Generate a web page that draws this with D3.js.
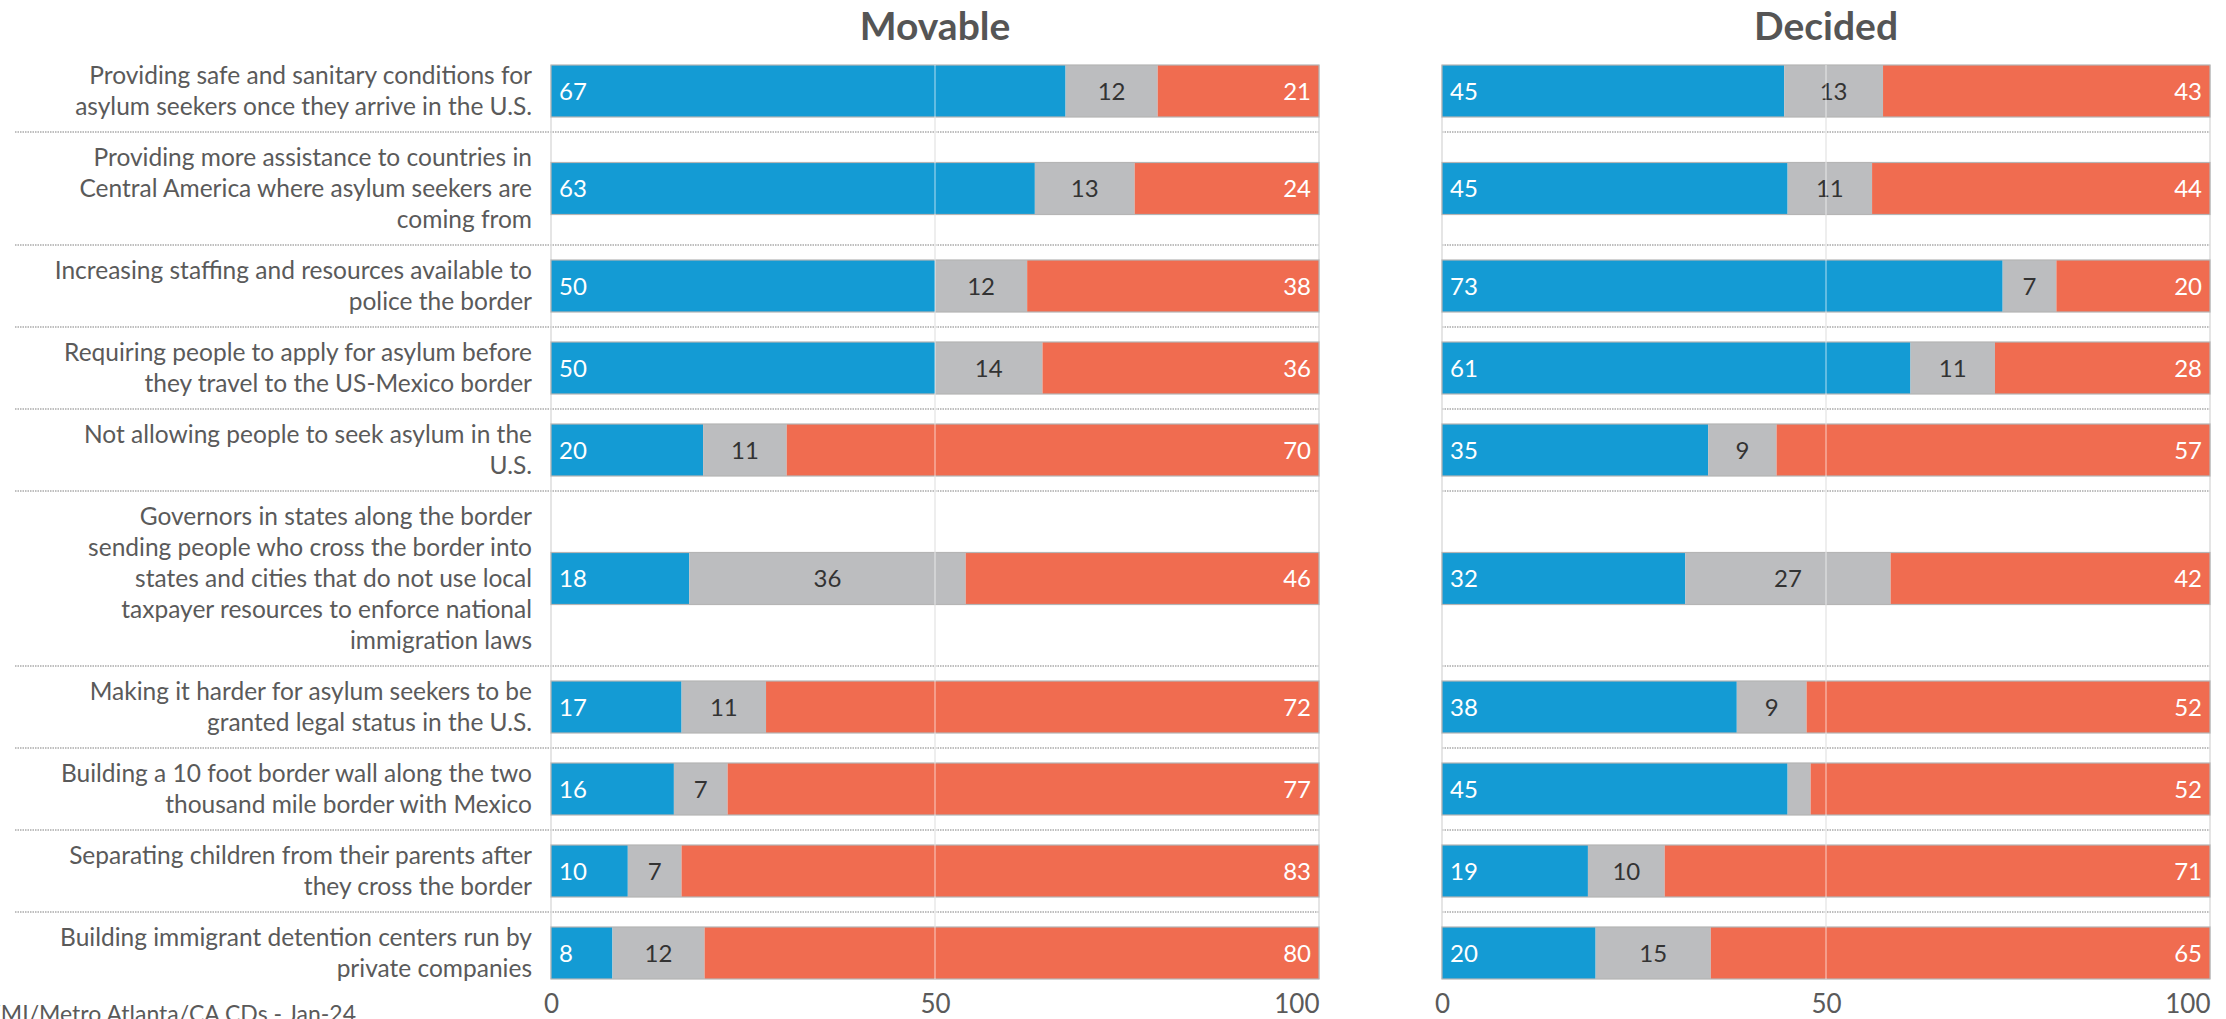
<!DOCTYPE html>
<meta charset="utf-8">
<title>Immigration policies - Movable vs Decided</title>
<style>
body {
  margin: 0;
  background: #fff;
}

svg {
  display: block;
  font-family: Lato, "Open Sans", sans-serif;
}

.label {
  fill: #5a5a5a;
  font-size: 24.5px;
}

.title {
  fill: #555;
  font-size: 39px;
  font-weight: bold;
}

.value {
  font-size: 24px;
}

.axis text {
  fill: #5a5a5a;
  font-size: 26px;
  font-family: Lato, "Open Sans", sans-serif;
}

.source {
  fill: #5a5a5a;
  font-size: 23px;
}
</style>
<body>
<div id="chart"></div>

<script src="https://cdn.jsdelivr.net/npm/d3@7"></script>
<script>
// Row labels (already broken into lines as in the original)
const categories = [
  ["Providing safe and sanitary conditions for", "asylum seekers once they arrive in the U.S."],
  ["Providing more assistance to countries in", "Central America where asylum seekers are", "coming from"],
  ["Increasing staffing and resources available to", "police the border"],
  ["Requiring people to apply for asylum before", "they travel to the US-Mexico border"],
  ["Not allowing people to seek asylum in the", "U.S."],
  ["Governors in states along the border", "sending people who cross the border into", "states and cities that do not use local", "taxpayer resources to enforce national", "immigration laws"],
  ["Making it harder for asylum seekers to be", "granted legal status in the U.S."],
  ["Building a 10 foot border wall along the two", "thousand mile border with Mexico"],
  ["Separating children from their parents after", "they cross the border"],
  ["Building immigrant detention centers run by", "private companies"]
];

const series = ["Support", "Unsure", "Oppose"];
const panelTitles = ["Movable", "Decided"];

// Movable voters
const movableSupport = [67, 63, 50, 50, 20, 18, 17, 16, 10, 8];
const movableUnsure  = [12, 13, 12, 14, 11, 36, 11, 7, 7, 12];
const movableOppose  = [21, 24, 38, 36, 70, 46, 72, 77, 83, 80];

// Decided voters
const decidedSupport = [45, 45, 73, 61, 35, 32, 38, 45, 19, 20];
const decidedUnsure  = [13, 11, 7, 11, 9, 27, 9, 3, 10, 15];
const decidedOppose  = [43, 44, 20, 28, 57, 42, 52, 52, 71, 65];

const tickValues = [0, 50, 100];
const source = "AZ/GA/NV/MI/Metro Atlanta/CA CDs - Jan-24";

// Layout
const width = 2226;
const height = 1019;
const panelX = [551, 1442];
const panelW = 768;
const plotTop = 50;
const lineH = 31;
const rowPad = 20;
const barH = 52;
const labelRight = 532;

const colors = {Support: "#149bd4", Unsure: "#bcbdbf", Oppose: "#f06c50"};
const textColors = {Support: "#fff", Unsure: "#333", Oppose: "#fff"};

// Row positions from the number of label lines
const rowH = categories.map(c => c.length * lineH + rowPad);
const rowTop = rowH.map((h, i) => plotTop + d3.sum(rowH.slice(0, i)));
const rowMid = rowTop.map((t, i) => t + rowH[i] / 2);
const plotBottom = rowTop[rowTop.length - 1] + rowH[rowH.length - 1];

const svg = d3.select("#chart")
  .append("svg")
    .attr("width", width)
    .attr("height", height);

// Category labels
const labels = svg.append("g")
  .selectAll("text")
  .data(categories)
  .enter().append("text")
    .attr("class", "label")
    .attr("text-anchor", "end");

labels.selectAll("tspan")
  .data((d, i) => d.map((line, j) => ({line, j, n: d.length, i})))
  .enter().append("tspan")
    .attr("x", labelRight)
    .attr("y", d => rowMid[d.i] + (d.j - (d.n - 1) / 2) * lineH)
    .attr("dy", "0.35em")
    .text(d => d.line);

// Dotted separators between rows (left part starts under labels)
const seps = rowTop.slice(1);
svg.append("g")
  .selectAll("line")
  .data(seps)
  .enter().append("line")
    .attr("x1", 15)
    .attr("x2", panelX[0] + panelW)
    .attr("y1", d => d)
    .attr("y2", d => d)
    .attr("stroke", "#aaa")
    .attr("stroke-width", 1.5)
    .attr("stroke-dasharray", "1.5,1");

const stack = d3.stack()
    .keys(series)
    .offset(d3.stackOffsetExpand);

const panels = [
  [movableSupport, movableUnsure, movableOppose],
  [decidedSupport, decidedUnsure, decidedOppose]
];

panels.forEach((vals, p) => {
  const rows = categories.map((c, i) => ({
    i,
    Support: vals[0][i],
    Unsure: vals[1][i],
    Oppose: vals[2][i]
  }));
  const stacked = stack(rows);

  const x = d3.scaleLinear()
      .domain([0, 1])
      .range([panelX[p], panelX[p] + panelW]);

  const g = svg.append("g");

  // Right panel separators
  if (p === 1) {
    g.selectAll("line.sep")
      .data(seps)
      .enter().append("line")
        .attr("class", "sep")
        .attr("x1", x(0))
        .attr("x2", x(1))
        .attr("y1", d => d)
        .attr("y2", d => d)
        .attr("stroke", "#aaa")
        .attr("stroke-width", 1.5)
        .attr("stroke-dasharray", "1.5,1");
  }

  // Panel title
  g.append("text")
      .attr("class", "title")
      .attr("x", x(0.5))
      .attr("y", 26)
      .attr("dy", "0.35em")
      .attr("text-anchor", "middle")
      .text(panelTitles[p]);

  // Gridlines behind bars
  g.selectAll("line.grid")
    .data(tickValues)
    .enter().append("line")
      .attr("class", "grid")
      .attr("x1", d => x(d / 100))
      .attr("x2", d => x(d / 100))
      .attr("y1", rowMid[0] - barH / 2)
      .attr("y2", rowMid[rowMid.length - 1] + barH / 2)
      .attr("stroke", "#ddd")
      .attr("stroke-width", 1.5);

  // Bar segments
  const layer = g.selectAll("g.layer")
    .data(stacked)
    .enter().append("g")
      .attr("class", "layer")
      .attr("fill", d => colors[d.key]);

  layer.selectAll("rect")
    .data(d => d)
    .enter().append("rect")
      .attr("x", d => x(d[0]))
      .attr("width", d => x(d[1]) - x(d[0]))
      .attr("y", d => rowMid[d.data.i] - barH / 2)
      .attr("height", barH);

  // Bar outlines
  g.selectAll("rect.outline")
    .data(rows)
    .enter().append("rect")
      .attr("class", "outline")
      .attr("x", x(0))
      .attr("width", x(1) - x(0))
      .attr("y", d => rowMid[d.i] - barH / 2)
      .attr("height", barH)
      .attr("fill", "none")
      .attr("stroke", "#b5b5b5")
      .attr("stroke-width", 1.2);

  // Light midline on top of bars
  g.append("line")
      .attr("x1", x(0.5))
      .attr("x2", x(0.5))
      .attr("y1", rowMid[0] - barH / 2)
      .attr("y2", rowMid[rowMid.length - 1] + barH / 2)
      .attr("stroke", "rgba(255,255,255,0.45)")
      .attr("stroke-width", 1.5);

  // Value labels (tiny segments stay unlabelled)
  layer.selectAll("text")
    .data(d => d.map(s => ({key: d.key, s})))
    .enter().append("text")
      .filter(d => d.s.data[d.key] >= 5)
      .attr("class", "value")
      .attr("fill", d => textColors[d.key])
      .attr("x", d => d.key === "Support" ? x(d.s[0]) + 8
                 : d.key === "Oppose" ? x(d.s[1]) - 8
                 : (x(d.s[0]) + x(d.s[1])) / 2)
      .attr("text-anchor", d => d.key === "Support" ? "start" : d.key === "Oppose" ? "end" : "middle")
      .attr("y", d => rowMid[d.s.data.i])
      .attr("dy", "0.36em")
      .text(d => d.s.data[d.key]);

  // Bottom axis (labels only)
  const axis = d3.axisBottom(x)
      .tickValues(tickValues.map(t => t / 100))
      .tickFormat(t => Math.round(t * 100))
      .tickSize(0)
      .tickPadding(0);

  g.append("g")
      .attr("class", "axis")
      .attr("transform", `translate(0, ${plotBottom + 1})`)
      .call(axis)
      .call(a => a.select(".domain").remove())
      .call(a => a.selectAll(".tick:last-of-type text").attr("text-anchor", "end"));
});

// Source note, clipped at the left edge like the original
svg.append("text")
    .attr("class", "source")
    .attr("x", 356)
    .attr("y", height + 3)
    .attr("text-anchor", "end")
    .text(source);
</script>
</body>
</html>
